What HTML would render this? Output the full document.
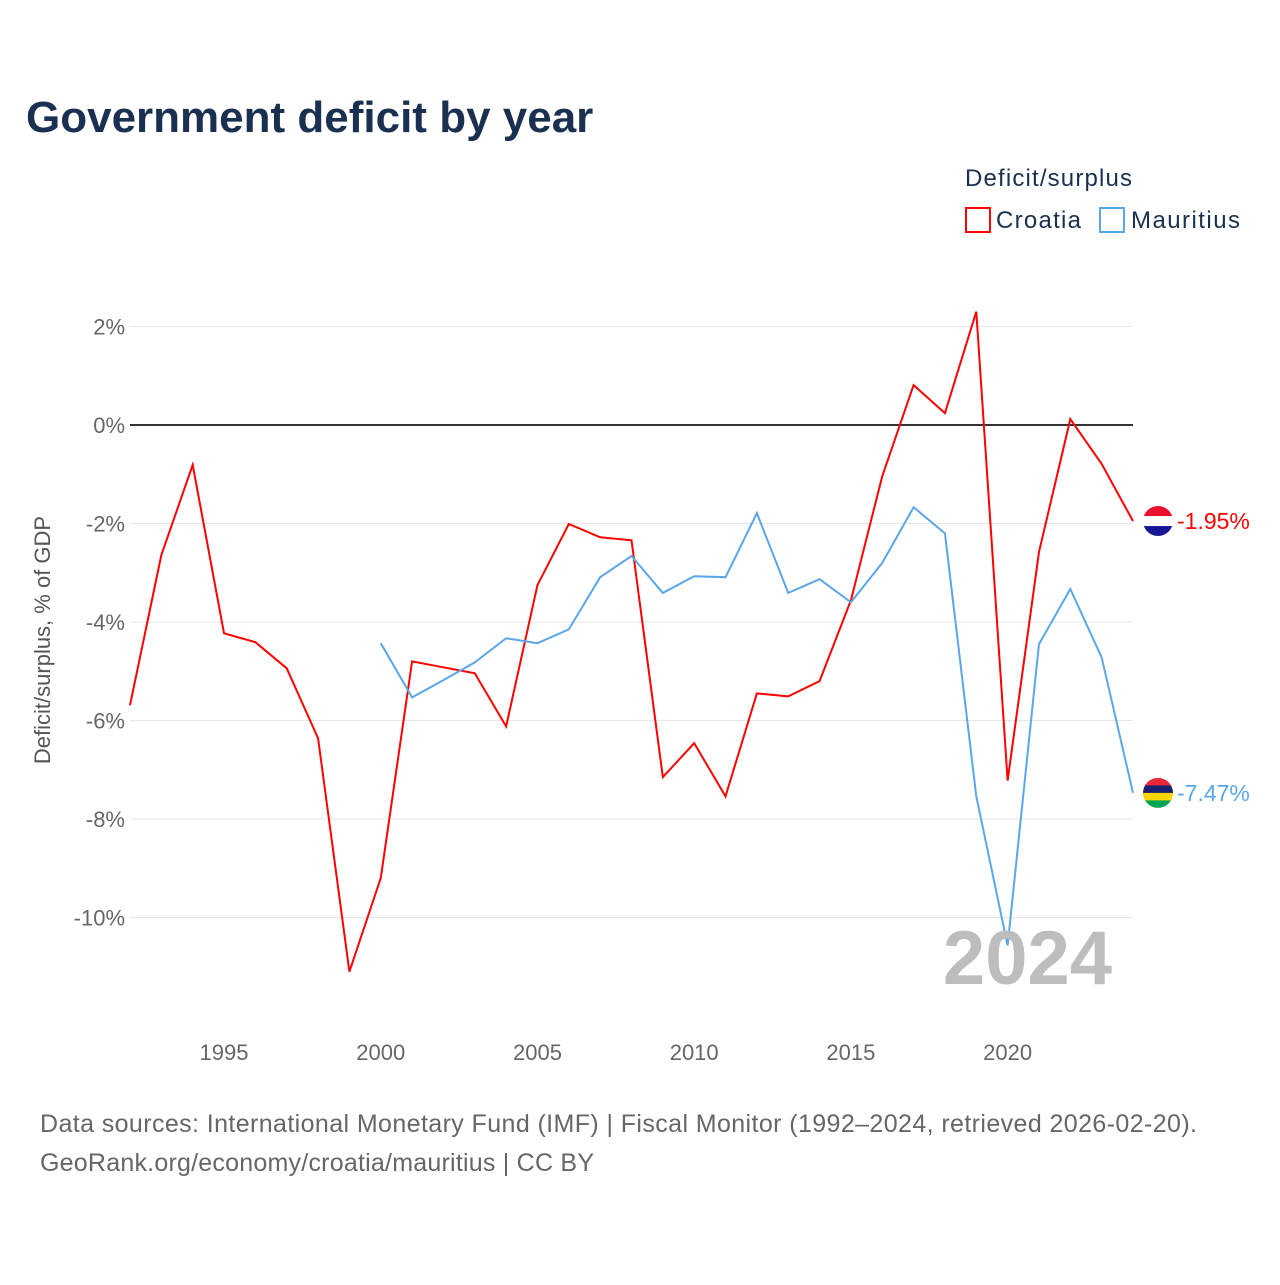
<!DOCTYPE html>
<html><head><meta charset="utf-8"><style>
body{margin:0;background:#fff;font-family:"Liberation Sans",sans-serif}
svg text{font-family:"Liberation Sans",sans-serif}
</style></head><body>
<svg id="c" width="1280" height="1280" xmlns="http://www.w3.org/2000/svg">
<text x="26" y="132" font-size="44" font-weight="bold" fill="#1a3050">Government deficit by year</text>
<text x="965" y="186" font-size="24" fill="#1a3050" textLength="167">Deficit/surplus</text>
<g><rect x="966" y="208" width="24" height="24" fill="none" stroke="#ff0000" stroke-width="2"/><text x="996" y="228" font-size="24" fill="#1a3050" textLength="85">Croatia</text></g>
<g><rect x="1100" y="208" width="24" height="24" fill="none" stroke="#5ba6ea" stroke-width="2"/><text x="1131" y="228" font-size="24" fill="#1a3050" textLength="109">Mauritius</text></g>
<text transform="translate(50,640) rotate(-90)" text-anchor="middle" font-size="22" fill="#555">Deficit/surplus, % of GDP</text>
<g id="grid"></g><g id="lines"></g>
<text x="1112" y="984" text-anchor="end" font-size="76" font-weight="bold" fill="#bdbdbd">2024</text>
<text x="40" y="1132" font-size="25" fill="#666" textLength="1157">Data sources: International Monetary Fund (IMF) | Fiscal Monitor (1992–2024, retrieved 2026-02-20).</text>
<text x="40" y="1171" font-size="25" fill="#666" textLength="554">GeoRank.org/economy/croatia/mauritius | CC BY</text>
</svg>
<script>
const yTicks=[2,0,-2,-4,-6,-8,-10];
const xTicks=[1995,2000,2005,2010,2015,2020];
const croatiaYears=[1992,1993,1994,1995,1996,1997,1998,1999,2000,2001,2002,2003,2004,2005,2006,2007,2008,2009,2010,2011,2012,2013,2014,2015,2016,2017,2018,2019,2020,2021,2022,2023,2024];
const croatia=[-5.69,-2.64,-0.81,-4.23,-4.41,-4.94,-6.36,-11.1,-9.2,-4.80,-4.92,-5.04,-6.12,-3.25,-2.01,-2.28,-2.34,-7.15,-6.46,-7.54,-5.45,-5.51,-5.20,-3.56,-1.04,0.81,0.24,2.30,-7.22,-2.58,0.12,-0.79,-1.95];
const mauritiusYears=[2000,2001,2002,2003,2004,2005,2006,2007,2008,2009,2010,2011,2012,2013,2014,2015,2016,2017,2018,2019,2020,2021,2022,2023,2024];
const mauritius=[-4.43,-5.53,-5.18,-4.82,-4.33,-4.43,-4.15,-3.09,-2.66,-3.41,-3.07,-3.09,-1.79,-3.41,-3.13,-3.60,-2.80,-1.67,-2.20,-7.54,-10.57,-4.45,-3.33,-4.72,-7.47];
const X=yr=>130+(yr-1992)*(1133-130)/32;
const Y=v=>425-v*49.25;
const NS='http://www.w3.org/2000/svg';
function mk(t,a,p){const e=document.createElementNS(NS,t);for(const k in a)e.setAttribute(k,a[k]);p.appendChild(e);return e;}
const g=document.getElementById('grid'),L=document.getElementById('lines');
yTicks.forEach(v=>{
 const l=mk('line',{x1:130,x2:1133,y1:Y(v),y2:Y(v),stroke:v===0?'#333':'#e6e6e6','stroke-width':v===0?2:1},g);
 
 
 const t=mk('text',{x:125,y:Y(v)+8,'text-anchor':'end','font-size':22,fill:'#666'},g);
 t.textContent=v+'%';
 
 
});
xTicks.forEach(yr=>{
 const t=mk('text',{x:X(yr),y:1060,'text-anchor':'middle','font-size':22,fill:'#666'},g);
 t.textContent=yr;
 
 
});
function series(years,vals,col,name,flag){
 const p=mk('polyline',{points:years.map((y,i)=>X(y)+','+Y(vals[i])).join(' '),fill:'none',stroke:col,'stroke-width':2},L);
 
 
 const last=vals[vals.length-1],cx=1158,cy=Y(last);
 const fg=mk('g',{},L);
 
 
 const id='clip'+name;const cp=mk('clipPath',{id:id},fg);mk('circle',{cx:cx,cy:cy,r:15},cp);
 const s=mk('g',{'clip-path':'url(#'+id+')'},fg);
 flag.forEach((c,i)=>mk('rect',{x:cx-15,y:cy-15+i*30/flag.length,width:30,height:30/flag.length+0.5,fill:c},s));
 const t=mk('text',{x:1177,y:cy+8,'font-size':23,fill:col},L);
 t.textContent=last.toFixed(2)+'%';
 
 
}
series(croatiaYears,croatia,'#ff0000','croatia',['#e8112d','#ffffff','#171796']);
series(mauritiusYears,mauritius,'#5ba6ea','mauritius',['#ea2839','#1a206d','#ffd500','#00a551']);
</script>
</body></html>
